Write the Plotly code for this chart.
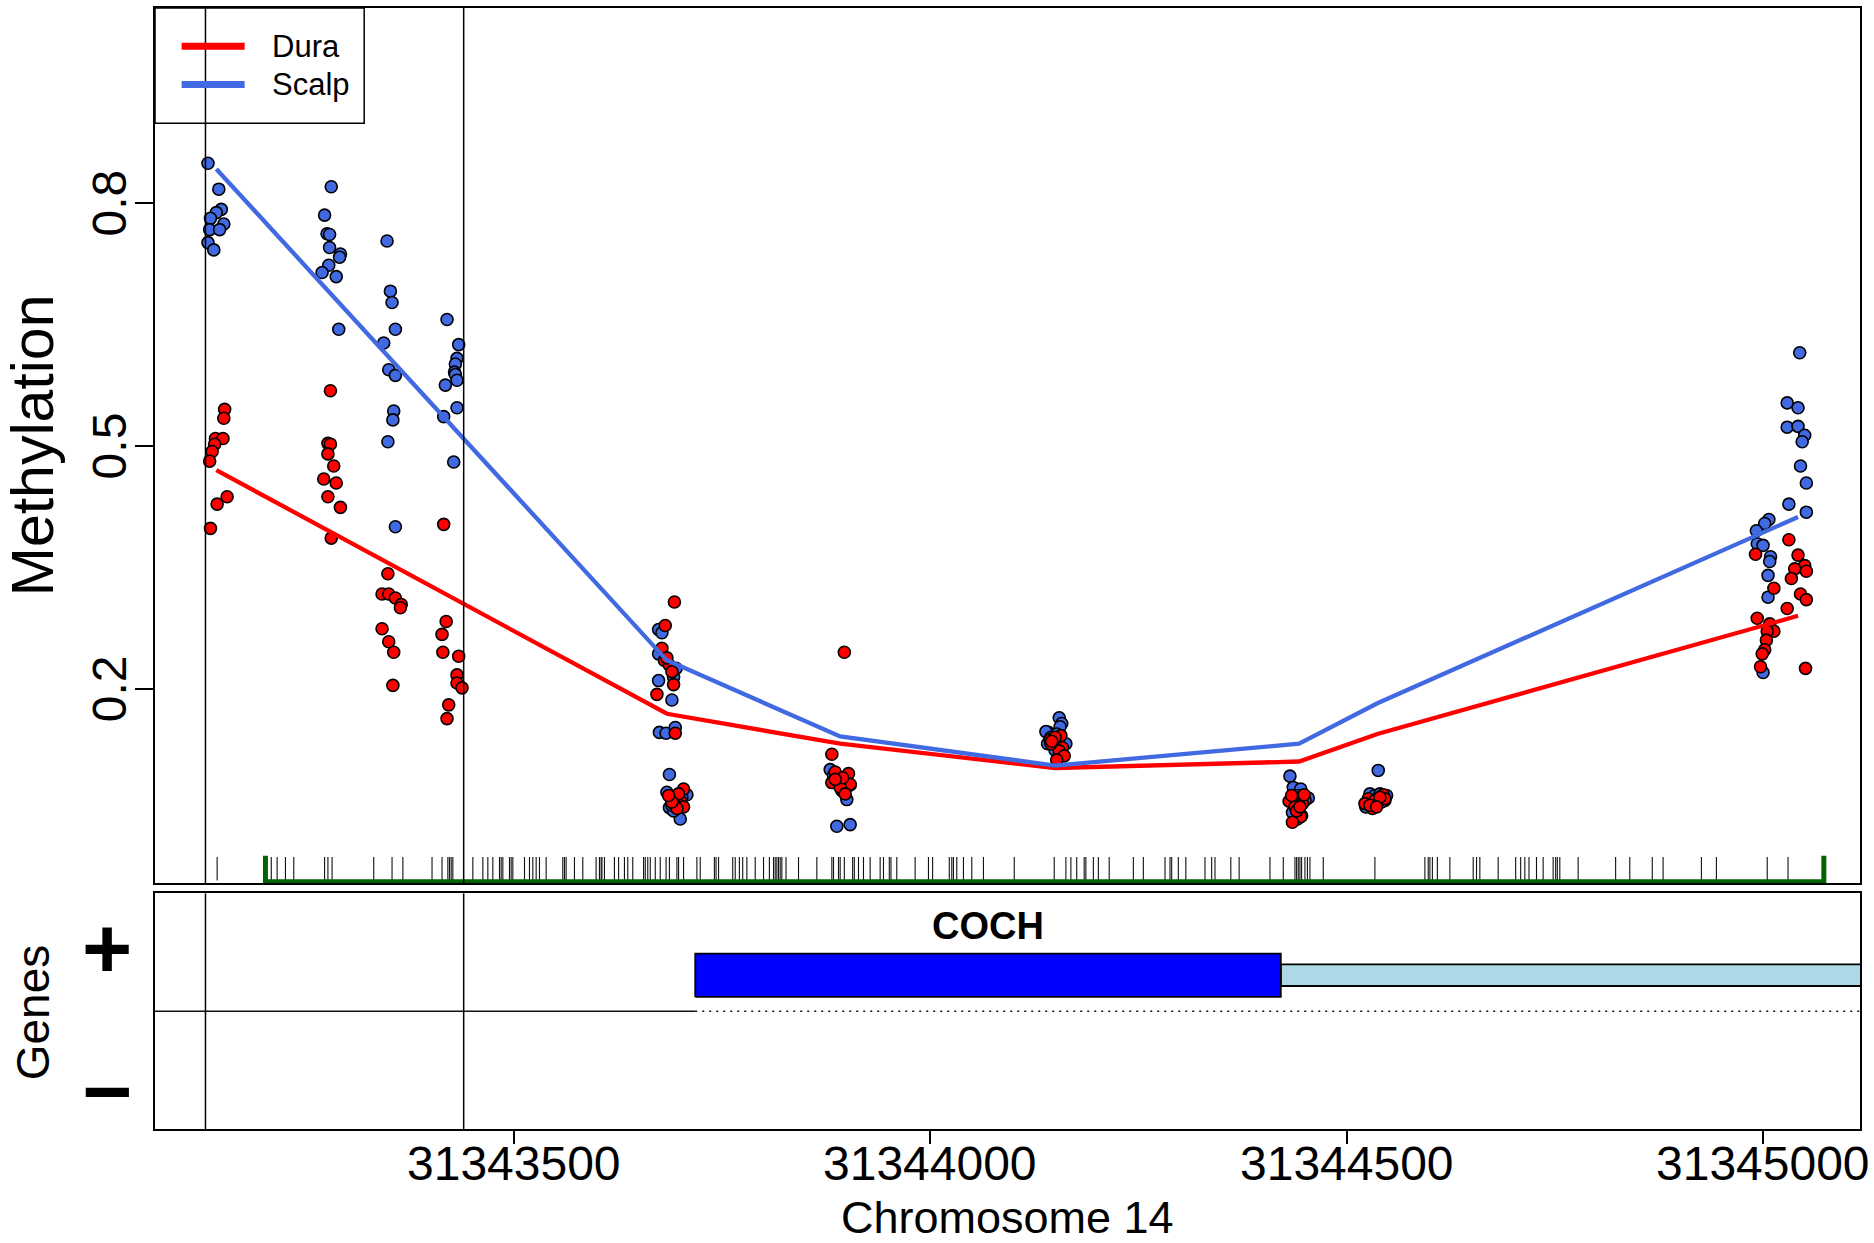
import plotly.graph_objects as go

# ---------------- data ----------------
x_range = [31343069.4, 31345116.4]
x_tick_vals = [31343500, 31344000, 31344500, 31345000]
x_tick_text = ["31343500", "31344000", "31344500", "31345000"]
y_tick_vals = [0.2, 0.5, 0.8]
y_tick_text = ["0.2", "0.5", "0.8"]

# Dura (red) individual sample methylation
dura_pos = [
    31343153, 31343152, 31343142, 31343151, 31343141, 31343138, 31343135, 31343156, 31343144, 31343136,
    31343280, 31343277, 31343280, 31343277, 31343284, 31343272, 31343287, 31343277, 31343292, 31343281,
    31343349, 31343342, 31343350, 31343358, 31343365, 31343364, 31343342, 31343350, 31343356, 31343355,
    31343416, 31343419, 31343414, 31343415, 31343434, 31343432, 31343432, 31343438, 31343422, 31343420,
    31343693, 31343682, 31343678, 31343681, 31343687, 31343692, 31343672, 31343694, 31343684, 31343690,
    31343704, 31343688, 31343694, 31343700, 31343692, 31343704, 31343696, 31343698, 31343690, 31343686,
    31343897, 31343882, 31343902, 31343882, 31343886, 31343904, 31343892, 31343895, 31343886, 31343898,
    31344157, 31344144, 31344148, 31344159, 31344155, 31344161, 31344152, 31344145, 31344150, 31344146,
    31344431, 31344442, 31344447, 31344438, 31344445, 31344435, 31344449, 31344440, 31344434, 31344444,
    31344526, 31344538, 31344531, 31344544, 31344534, 31344522, 31344546, 31344540, 31344528, 31344536,
    31344991, 31345013, 31344993, 31345008, 31345013, 31345005, 31345004, 31345002, 31344999, 31344997,
    31345031, 31345042, 31345050, 31345038, 31345052, 31345034, 31345045, 31345052, 31345029, 31345051,
]
dura_meth = [
    0.545, 0.534, 0.509, 0.509, 0.502, 0.493, 0.481, 0.437, 0.428, 0.398,
    0.568, 0.503, 0.502, 0.490, 0.475, 0.459, 0.454, 0.437, 0.424, 0.386,
    0.342, 0.317, 0.317, 0.312, 0.304, 0.300, 0.274, 0.258, 0.245, 0.204,
    0.403, 0.283, 0.267, 0.245, 0.240, 0.217, 0.207, 0.201, 0.180, 0.163,
    0.307, 0.278, 0.250, 0.235, 0.229, 0.205, 0.193, 0.145, 0.238, 0.221,
    0.076, 0.066, 0.064, 0.062, 0.058, 0.054, 0.052, 0.070, 0.060, 0.068,
    0.245, 0.119, 0.095, 0.084, 0.097, 0.082, 0.078, 0.090, 0.088, 0.070,
    0.142, 0.137, 0.132, 0.127, 0.123, 0.117, 0.112, 0.132, 0.140, 0.135,
    0.061, 0.065, 0.058, 0.054, 0.042, 0.035, 0.069, 0.049, 0.068, 0.054,
    0.064, 0.060, 0.052, 0.069, 0.062, 0.058, 0.064, 0.066, 0.056, 0.054,
    0.366, 0.324, 0.287, 0.280, 0.271, 0.271, 0.260, 0.248, 0.243, 0.227,
    0.384, 0.365, 0.352, 0.348, 0.345, 0.336, 0.317, 0.310, 0.299, 0.225,
]

# Scalp (blue) individual sample methylation
scalp_pos = [
    31343133, 31343146, 31343149, 31343143, 31343136, 31343152, 31343135, 31343147, 31343133, 31343140,
    31343281, 31343273, 31343276, 31343279, 31343279, 31343292, 31343291, 31343278, 31343270, 31343287, 31343290,
    31343348, 31343352, 31343354, 31343358, 31343344, 31343350, 31343358, 31343356, 31343355, 31343349, 31343358,
    31343420, 31343434, 31343432, 31343430, 31343429, 31343430, 31343432, 31343418, 31343432, 31343416, 31343428,
    31343674, 31343678, 31343674, 31343695, 31343692, 31343674, 31343690, 31343675, 31343683, 31343694,
    31343687, 31343708, 31343687, 31343696, 31343700, 31343692, 31343684, 31343698, 31343702, 31343690,
    31343880, 31343884, 31343888, 31343894, 31343898, 31343904, 31343900, 31343888, 31343904, 31343890,
    31344155, 31344158, 31344156, 31344142, 31344139, 31344141, 31344150, 31344163, 31344152, 31344145,
    31344432, 31344436, 31344445, 31344454, 31344442, 31344435, 31344441, 31344446, 31344450, 31344437,
    31344538, 31344528, 31344544, 31344523, 31344546, 31344534, 31344542, 31344530, 31344548, 31344540,
    31345007, 31345002, 31344992, 31344993, 31345000, 31345009, 31345008, 31345006, 31345006, 31345000,
    31345044, 31345029, 31345042, 31345029, 31345042, 31345050, 31345047, 31345045, 31345052, 31345031, 31345052,
]
scalp_meth = [
    0.849, 0.817, 0.792, 0.788, 0.781, 0.774, 0.767, 0.767, 0.751, 0.742,
    0.820, 0.785, 0.762, 0.761, 0.745, 0.737, 0.733, 0.723, 0.714, 0.709, 0.644,
    0.753, 0.691, 0.677, 0.644, 0.627, 0.594, 0.587, 0.543, 0.532, 0.505, 0.400,
    0.656, 0.625, 0.608, 0.601, 0.591, 0.588, 0.581, 0.575, 0.547, 0.536, 0.480,
    0.273, 0.269, 0.243, 0.225, 0.214, 0.210, 0.186, 0.146, 0.145, 0.152,
    0.094, 0.069, 0.053, 0.062, 0.039, 0.049, 0.072, 0.058, 0.066, 0.056,
    0.100, 0.093, 0.084, 0.074, 0.076, 0.081, 0.063, 0.030, 0.032, 0.091,
    0.164, 0.157, 0.153, 0.146, 0.147, 0.132, 0.124, 0.132, 0.144, 0.140,
    0.092, 0.078, 0.076, 0.065, 0.068, 0.047, 0.039, 0.043, 0.062, 0.062,
    0.099, 0.070, 0.066, 0.054, 0.062, 0.068, 0.060, 0.062, 0.068, 0.070,
    0.409, 0.404, 0.395, 0.379, 0.377, 0.363, 0.357, 0.340, 0.313, 0.220,
    0.615, 0.553, 0.547, 0.523, 0.524, 0.513, 0.505, 0.475, 0.454, 0.428, 0.418,
]

# Smoothed group means
line_pos = [31343143, 31343684, 31343892, 31344150, 31344443, 31344537, 31345042]
dura_line = [0.470, 0.169, 0.132, 0.102, 0.110, 0.144, 0.290]
scalp_line = [0.842, 0.235, 0.141, 0.105, 0.132, 0.182, 0.412]

# CpG positions (rug)
cpg_pos = [
    31343144, 31343209, 31343216, 31343226, 31343236, 31343273, 31343277, 31343282, 31343332, 31343354,
    31343367, 31343402, 31343414, 31343421, 31343423, 31343425, 31343427, 31343451, 31343463, 31343469,
    31343475, 31343483, 31343485, 31343487, 31343495, 31343497, 31343499, 31343513, 31343519, 31343523,
    31343527, 31343531, 31343539, 31343559, 31343561, 31343563, 31343573, 31343583, 31343599, 31343603,
    31343605, 31343606, 31343609, 31343621, 31343626, 31343633, 31343637, 31343643, 31343656, 31343658,
    31343661, 31343664, 31343670, 31343676, 31343683, 31343687, 31343696, 31343698, 31343704, 31343720,
    31343724, 31343741, 31343743, 31343746, 31343763, 31343766, 31343771, 31343775, 31343780, 31343790,
    31343800, 31343807, 31343812, 31343814, 31343816, 31343818, 31343820, 31343822, 31343827, 31343842,
    31343864, 31343882, 31343884, 31343890, 31343892, 31343897, 31343907, 31343909, 31343914, 31343920,
    31343928, 31343940, 31343944, 31343951, 31343953, 31343960, 31343982, 31343998, 31344003, 31344023,
    31344026, 31344028, 31344032, 31344040, 31344050, 31344064, 31344101, 31344149, 31344163, 31344169,
    31344176, 31344185, 31344187, 31344196, 31344202, 31344215, 31344244, 31344256, 31344282, 31344288,
    31344290, 31344298, 31344307, 31344330, 31344338, 31344342, 31344361, 31344371, 31344408, 31344424,
    31344438, 31344440, 31344442, 31344444, 31344446, 31344450, 31344453, 31344456, 31344472, 31344534,
    31344594, 31344598, 31344600, 31344603, 31344609, 31344624, 31344652, 31344656, 31344660, 31344682,
    31344703, 31344709, 31344714, 31344719, 31344728, 31344736, 31344748, 31344751, 31344753, 31344756,
    31344778, 31344823, 31344840, 31344867, 31344880, 31344926, 31344944, 31345005, 31345030,
]

# Region (green bar) and highlighted window
region = [31343202, 31345073]
highlight = [31343130, 31343440]

# Gene model
gene_name = "COCH"
gene_tx_start = 31343718
gene_cds_end = 31344421
gene_tx_end = 31345600

# ---------------- figure ----------------
FONT = "Liberation Sans, Arial, Helvetica, sans-serif"
RED = "#FF0000"
BLUE = "#4169E1"

W, H = 1874, 1243
ml, mr, mt, mb = 155.4, 14.3, 6, 114
ph = H - mt - mb
pw = W - ml - mr
top_dom = [(1129 - 883) / ph, 1.0]
bot_dom = [0.0, (1129 - 893) / ph]


def px_x(v):
    return (v - ml) / pw


def px_y(v):
    return (H - mb - v) / ph


fig = go.Figure()

# rug of CpG positions
rx, ry = [], []
for p in cpg_pos:
    rx += [p, p, None]
    ry += [-0.008, -0.037, None]
fig.add_trace(go.Scatter(x=rx, y=ry, mode="lines", line=dict(color="#111111", width=1.1),
                         hoverinfo="skip", showlegend=False, xaxis="x", yaxis="y"))

# green region bar
fig.add_trace(go.Scatter(x=[region[0], region[0], region[1], region[1]],
                         y=[-0.0065, -0.0385, -0.0385, -0.0065], mode="lines",
                         line=dict(color="#006400", width=5), hoverinfo="skip",
                         showlegend=False, xaxis="x", yaxis="y"))

marker_line = dict(color="black", width=1.6)
fig.add_trace(go.Scatter(x=scalp_pos, y=scalp_meth, mode="markers",
                         marker=dict(size=12, color=BLUE, line=marker_line),
                         showlegend=False, xaxis="x", yaxis="y"))
fig.add_trace(go.Scatter(x=dura_pos, y=dura_meth, mode="markers",
                         marker=dict(size=12, color=RED, line=marker_line),
                         showlegend=False, xaxis="x", yaxis="y"))
fig.add_trace(go.Scatter(x=line_pos, y=dura_line, mode="lines",
                         line=dict(color=RED, width=4.3), showlegend=False, xaxis="x", yaxis="y"))
fig.add_trace(go.Scatter(x=line_pos, y=scalp_line, mode="lines",
                         line=dict(color=BLUE, width=4.3), showlegend=False, xaxis="x", yaxis="y"))

# gene panel: strand line
fig.add_trace(go.Scatter(x=[x_range[0], gene_tx_start], y=[0.5, 0.5], mode="lines",
                         line=dict(color="#111111", width=1.4), hoverinfo="skip",
                         showlegend=False, xaxis="x2", yaxis="y2"))
fig.add_trace(go.Scatter(x=[gene_tx_start, x_range[1]], y=[0.5, 0.5], mode="lines",
                         line=dict(color="#111111", width=1.4, dash="2px,5px"), hoverinfo="skip",
                         showlegend=False, xaxis="x2", yaxis="y2"))
# gene boxes
fig.add_trace(go.Scatter(x=[gene_cds_end, gene_tx_end, gene_tx_end, gene_cds_end, gene_cds_end],
                         y=[0.607, 0.607, 0.699, 0.699, 0.607], mode="lines", fill="toself",
                         fillcolor="#ADD8E6", line=dict(color="black", width=1.8),
                         hoverinfo="skip", showlegend=False, xaxis="x2", yaxis="y2"))
fig.add_trace(go.Scatter(x=[gene_tx_start, gene_cds_end, gene_cds_end, gene_tx_start, gene_tx_start],
                         y=[0.5606, 0.5606, 0.7445, 0.7445, 0.5606], mode="lines", fill="toself",
                         fillcolor="#0000FF", line=dict(color="black", width=1.8),
                         hoverinfo="skip", showlegend=False, xaxis="x2", yaxis="y2"))

shapes = []
for h in highlight:
    shapes.append(dict(type="line", xref="x", yref="y domain", x0=h, x1=h, y0=0, y1=1,
                       line=dict(color="black", width=1.5)))
    shapes.append(dict(type="line", xref="x2", yref="y2 domain", x0=h, x1=h, y0=0, y1=1,
                       line=dict(color="black", width=1.5)))

# legend (drawn manually)
shapes.append(dict(type="rect", xref="paper", yref="paper", x0=0, x1=px_x(364.5),
                   y0=px_y(121.5), y1=1, line=dict(color="black", width=1.5)))
shapes.append(dict(type="line", xref="paper", yref="paper", x0=px_x(182), x1=px_x(245),
                   y0=px_y(44.3), y1=px_y(44.3), line=dict(color=RED, width=7)))
shapes.append(dict(type="line", xref="paper", yref="paper", x0=px_x(182), x1=px_x(245),
                   y0=px_y(82.7), y1=px_y(82.7), line=dict(color=BLUE, width=7)))

annotations = [
    dict(text="Dura", xref="paper", yref="paper", x=px_x(270), y=px_y(44.3), xanchor="left",
         yanchor="middle", showarrow=False, font=dict(family=FONT, size=31, color="black")),
    dict(text="Scalp", xref="paper", yref="paper", x=px_x(270), y=px_y(82.7), xanchor="left",
         yanchor="middle", showarrow=False, font=dict(family=FONT, size=31, color="black")),
    dict(text="Methylation", xref="paper", yref="paper", x=px_x(33), y=px_y(444.5),
         textangle=-90, xanchor="center", yanchor="middle", showarrow=False,
         font=dict(family=FONT, size=59, color="black")),
    dict(text="Genes", xref="paper", yref="paper", x=px_x(33.5), y=px_y(1012),
         textangle=-90, xanchor="center", yanchor="middle", showarrow=False,
         font=dict(family=FONT, size=46, color="black")),
    dict(text="<b>+</b>", xref="paper", yref="paper", x=px_x(107.6), y=px_y(948),
         xanchor="center", yanchor="middle", showarrow=False,
         font=dict(family=FONT, size=86, color="black")),
    dict(text="<b>\u2212</b>", xref="paper", yref="paper", x=px_x(107.6), y=px_y(1091),
         xanchor="center", yanchor="middle", showarrow=False,
         font=dict(family=FONT, size=86, color="black")),
    dict(text="<b>" + gene_name + "</b>", xref="x2", yref="y2",
         x=(gene_tx_start + gene_cds_end) / 2, y=0.86, xanchor="center", yanchor="middle",
         showarrow=False, font=dict(family=FONT, size=38, color="black")),
    dict(text="Chromosome 14", xref="paper", yref="paper", x=0.5, y=px_y(1218),
         xanchor="center", yanchor="middle", showarrow=False,
         font=dict(family=FONT, size=45, color="black")),
]

# tick labels placed like base-R axis labels
for v, t in zip(x_tick_vals, x_tick_text):
    annotations.append(dict(text=t, xref="x2", yref="paper", x=v, y=px_y(1164),
                            xanchor="center", yanchor="middle", showarrow=False,
                            font=dict(family=FONT, size=48, color="black")))
for v, t in zip(y_tick_vals, y_tick_text):
    annotations.append(dict(text=t, xref="paper", yref="y", x=px_x(110), y=v,
                            textangle=-90, xanchor="center", yanchor="middle", showarrow=False,
                            font=dict(family=FONT, size=48, color="black")))

axis_common = dict(showline=True, mirror=True, linecolor="black", linewidth=1.5,
                   showgrid=False, zeroline=False)

fig.update_layout(
    width=W, height=H,
    margin=dict(l=ml, r=mr, t=mt, b=mb),
    paper_bgcolor="white", plot_bgcolor="white",
    showlegend=False,
    shapes=shapes, annotations=annotations,
    xaxis=dict(domain=[0, 1], anchor="y", range=x_range, showticklabels=False, ticks="",
               **axis_common),
    yaxis=dict(domain=top_dom, anchor="x", range=[-0.0406, 1.0408], tickvals=y_tick_vals,
               showticklabels=False, ticks="outside", ticklen=18, tickwidth=1.5,
               tickcolor="black", **axis_common),
    xaxis2=dict(domain=[0, 1], anchor="y2", range=x_range, tickvals=x_tick_vals,
                showticklabels=False, ticks="outside", ticklen=13, tickwidth=1.5,
                tickcolor="black", **axis_common),
    yaxis2=dict(domain=bot_dom, anchor="x2", range=[0, 1], showticklabels=False, ticks="",
                **axis_common),
)

fig.write_html("out.html", config={"displayModeBar": False},
               post_script="document.body.style.margin='0';document.body.style.overflow='hidden';")
